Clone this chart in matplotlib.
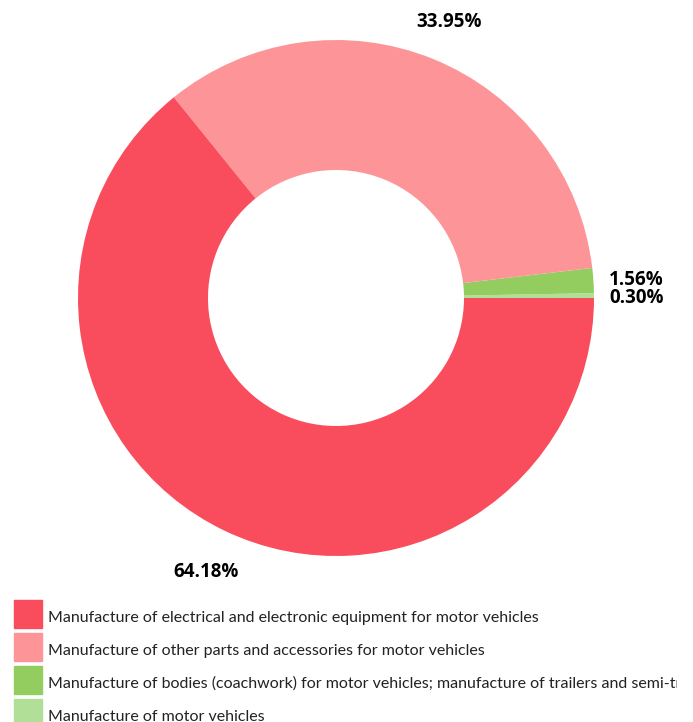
import matplotlib.pyplot as plt
from matplotlib.patches import Rectangle
from matplotlib.transforms import Bbox

categories = [
    "Manufacture of electrical and electronic equipment for motor vehicles",
    "Manufacture of other parts and accessories for motor vehicles",
    "Manufacture of bodies (coachwork) for motor vehicles; manufacture of trailers and semi-trailers",
    "Manufacture of motor vehicles",
]
shares = [64.18, 33.95, 1.56, 0.30]
colors = ["#f94d5d", "#fd9598", "#93cd5f", "#b2df98"]

W, H = 693, 722
fig = plt.figure(figsize=(W / 100, H / 100), dpi=100)
ax = fig.add_axes([0, 0, 1, 1])

# donut drawn counter-clockwise from 3 o'clock, smallest slice first
center = (336, H - 298)
radius = 258
wedges, texts = ax.pie(
    shares[::-1], colors=colors[::-1], startangle=0, counterclock=True,
    center=center, radius=radius, frame=True,
    labels=[f"{v:.2f}%" for v in shares[::-1]], labeldistance=1.165,
    wedgeprops=dict(width=130, linewidth=0),
    textprops=dict(fontsize=13.5, fontweight="bold", family=["Open Sans", "DejaVu Sans"]),
)
for t in texts:
    t.set_ha("center")
    t.set_va("center_baseline")
ax.set_xlim(0, W)
ax.set_ylim(0, H)
ax.set_aspect("equal")
ax.axis("off")

# legend at the bottom; the long label is cut off at x=677 like in the source
clip = Bbox.from_extents(0, 0, 677, H)
for i, (cat, col) in enumerate(zip(categories, colors)):
    top = 600 + i * 33
    fig.patches.append(Rectangle((14 / W, 1 - (top + 28) / H), 28 / W, 28 / H,
                                 transform=fig.transFigure, color=col))
    txt = fig.text(48 / W, 1 - (top + 22) / H, cat, fontsize=11.5, va="baseline",
                   family=["Lato", "DejaVu Sans"], color="#222222")
    txt.set_clip_box(clip)
    txt.set_clip_on(True)

fig.savefig("out.png", dpi=100)
